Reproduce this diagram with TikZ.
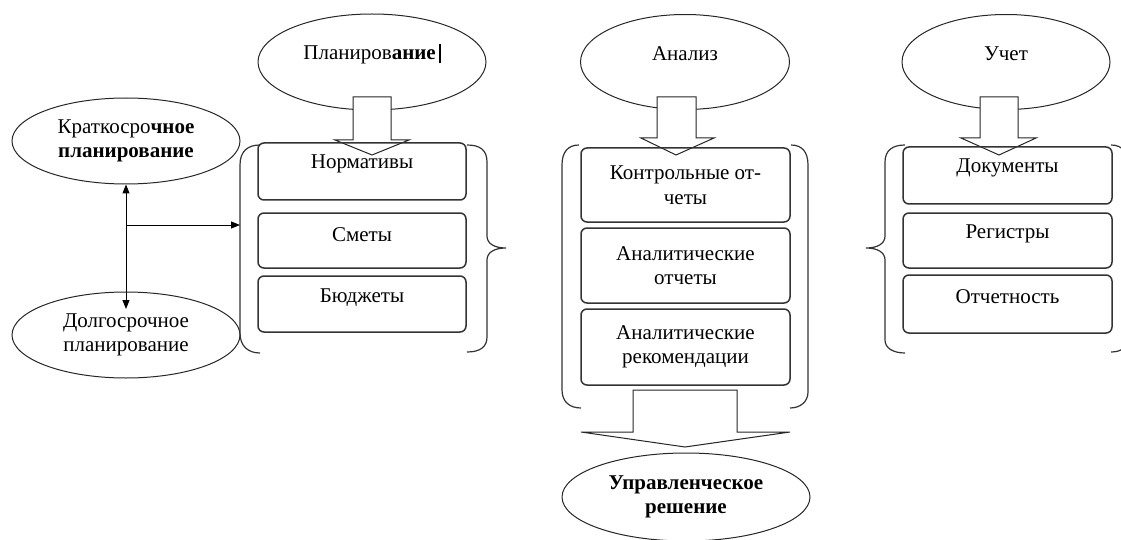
\documentclass[tikz,border=0pt]{standalone}
\usepackage{fontspec}
\setmainfont{Liberation Serif}
\usetikzlibrary{shapes.geometric,arrows.meta}
\begin{document}
\begin{tikzpicture}[x=1pt,y=-1pt,
  every node/.style={font=\fontsize{21}{24.5}\selectfont},
  oval/.style={draw=black!85, line width=1pt, ellipse, inner sep=0pt, align=center},
  item/.style={draw=black!80, line width=1.5pt, rounded corners=6pt, inner sep=0pt, align=center},
  brk/.style={draw=black!80, line width=1.2pt},
  blk/.style={draw=black!85, line width=1pt, fill=white, line join=miter},
  con/.style={line width=1pt, -{Triangle[length=9pt,width=7pt]}},
  top1/.style={label={[anchor=center, yshift=-22pt]north:#1}},
  otext/.style={label={[anchor=base, yshift=8pt]center:#1}}
]
\useasboundingbox (0,0) rectangle (1121,540);

% ---- ellipses ----
\node[oval, minimum width=228pt, minimum height=96pt,
      otext={Планиров\textbf{ание}\,\rule[-4pt]{1.3pt}{19pt}}] (plan) at (372,62) {};
\node[oval, minimum width=209pt, minimum height=95pt, otext={Анализ}] (anal) at (685,62) {};
\node[oval, minimum width=208pt, minimum height=95pt, otext={Учет}] (uchet) at (1006,62) {};
\node[oval, minimum width=228pt, minimum height=86pt] (kr) at (126,141)
      {Краткосро\textbf{чное}\\\textbf{планирование}};
\node[oval, minimum width=228pt, minimum height=86pt] (dl) at (126,335)
      {Долгосрочное\\планирование};
\node[oval, minimum width=248pt, minimum height=88pt] (upr) at (686,497)
      {\textbf{Управленческое}\\\textbf{решение}};

% ---- block arrows ----
\draw[blk] (353,97) -- (353,140) -- (335,140) -- (372,155) -- (409,140) -- (391,140) -- (391,97) -- cycle;
\draw[blk] (657,97) -- (657,138) -- (641,138) -- (676,155) -- (714,138) -- (696,138) -- (696,97) -- cycle;
\draw[blk] (980,97) -- (980,138) -- (961,138) -- (999,155) -- (1036,138) -- (1018,138) -- (1018,97) -- cycle;
\draw[blk] (633,390) -- (633,432) -- (581,432) -- (685,447) -- (790,432) -- (737,432) -- (737,390) -- cycle;

% ---- boxes: planning ----
\node[item, minimum width=208pt, minimum height=57pt, top1=Нормативы] (norm) at (362,171.5) {};
\node[item, minimum width=208pt, minimum height=55pt, top1=Сметы] (smety) at (362,240.5) {};
\node[item, minimum width=208pt, minimum height=56pt, top1=Бюджеты] (budg) at (362,304) {};

% ---- boxes: analysis ----
\node[item, minimum width=209pt, minimum height=74pt] (kontr) at (685.5,185) {Контрольные от-\\четы};
\node[item, minimum width=209pt, minimum height=75pt] (anotch) at (685.5,265.5) {Аналитические\\отчеты};
\node[item, minimum width=209pt, minimum height=76pt] (anrek) at (685.5,347) {Аналитические\\рекомендации};

% ---- boxes: accounting ----
\node[item, minimum width=209pt, minimum height=57pt, top1=Документы] (docs) at (1007.5,175.5) {};
\node[item, minimum width=209pt, minimum height=55pt, top1=Регистры] (reg) at (1007.5,240.5) {};
\node[item, minimum width=209pt, minimum height=58pt, top1=Отчетность] (otch) at (1007.5,304) {};

% ---- brackets ----
\draw[brk] (260,145) .. controls (248,145) and (240,151) .. (240,165) -- (240,333)
  .. controls (240,346) and (248,353) .. (260,353);
\draw[brk] (467,145) .. controls (480,145) and (487,150) .. (487,162) -- (487,236)
  .. controls (487,244) and (495,248) .. (506,248)
  .. controls (495,248) and (487,252) .. (487,260) -- (487,337)
  .. controls (487,347) and (480,352) .. (467,352);
\draw[brk] (579,145) .. controls (568,145) and (562,152) .. (562,165) -- (562,390)
  .. controls (562,402) and (570,408) .. (581,408);
\draw[brk] (791,145) .. controls (802,145) and (808,152) .. (808,165) -- (808,392)
  .. controls (808,402) and (800,408) .. (790,408);
\draw[brk] (905,145) .. controls (893,145) and (885,150) .. (885,162) -- (885,236)
  .. controls (885,244) and (877,248) .. (866,248)
  .. controls (877,248) and (885,252) .. (885,260) -- (885,340)
  .. controls (885,348) and (893,353) .. (905,353);
\draw[brk] (1111,145) .. controls (1122,145) and (1128,152) .. (1128,165) -- (1128,335)
  .. controls (1128,347) and (1122,352) .. (1111,352);

% ---- connectors ----
\coordinate (hub) at (126,225);
\coordinate (dltip) at (126,309);
\coordinate (parenhit) at (240,225);
\draw[con] (hub) -- (kr.south);
\draw[con] (hub) -- (dltip);
\draw[con] (hub) -- (parenhit);
\end{tikzpicture}
\end{document}
